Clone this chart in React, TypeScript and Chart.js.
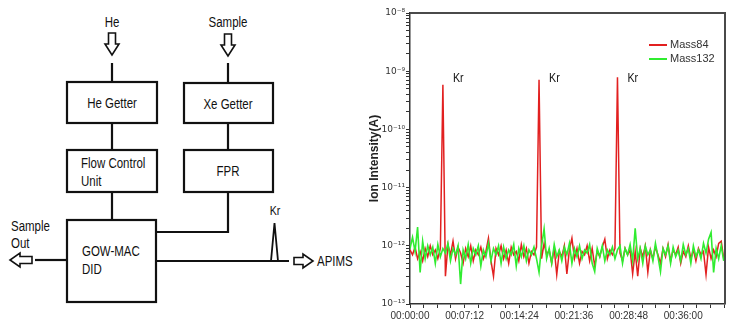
import React, { useEffect, useRef } from "react";
import { Chart, registerables } from "chart.js";

Chart.register(...registerables);

// ---------- data ----------
const SAMPLE_STEP_S = 20; // seconds between samples
const X_MAX_S = 2490;
const X_TICK_STEP_S = 108;
const X_LABEL_STEP_S = 432;
const Y_MIN = 1e-13;
const Y_MAX = 1e-8;
const Y_TITLE = "Ion Intensity(A)";
const SERIES_NAMES = ["Mass84", "Mass132"];
const SERIES_COLORS = ["rgb(226,32,32)", "rgb(48,236,48)"];

// ion currents in pA (1e-12 A)
const MASS84_PA = [
  0.85, 0.7, 0.95, 0.6, 0.8, 0.55, 0.9, 0.65, 1.0, 0.7,
  0.85, 0.6, 0.9, 585, 0.3, 1.05, 0.7, 1.2, 0.6, 0.95,
  0.75, 0.5, 0.9, 0.65, 1.0, 0.55, 0.85, 0.7, 0.95, 0.6,
  0.8, 1.35, 0.55, 0.3, 0.9, 0.7, 1.0, 0.6, 0.85, 0.5,
  0.95, 0.7, 0.8, 0.55, 1.05, 0.65, 0.9, 0.5, 0.8, 0.7,
  0.95, 710, 0.6, 1.1, 0.7, 0.85, 0.5, 0.9, 0.32, 0.8,
  0.65, 1.0, 0.33, 0.85, 1.35, 0.6, 0.9, 0.5, 0.8, 0.7,
  1.0, 0.55, 0.9, 0.45, 0.8, 0.65, 0.95, 1.3, 0.6, 0.85,
  0.7, 0.9, 790, 0.75, 0.55, 0.9, 0.7, 0.85, 0.33, 0.8,
  0.3, 0.9, 0.65, 1.0, 0.35, 0.85, 0.6, 0.95, 0.7, 0.5,
  0.9, 0.65, 1.05, 0.55, 0.85, 0.7, 0.95, 0.5, 0.8, 0.65,
  1.0, 0.6, 0.85, 0.55, 0.9, 0.7, 0.8, 0.32, 0.95, 0.6,
  0.85, 0.65, 1.1, 1.2, 0.6,
];
const MASS132_PA = [
  0.9, 1.4, 0.8, 2.1, 0.35, 1.2, 0.6, 1.0, 0.7, 0.95,
  0.5, 1.05, 0.65, 0.9, 0.75, 1.1, 0.55, 0.9, 0.7, 1.0,
  0.22, 0.85, 0.6, 1.05, 0.5, 0.9, 0.7, 1.0, 0.45, 0.85,
  0.65, 1.1, 0.55, 0.9, 0.7, 1.0, 0.5, 0.95, 0.6, 0.85,
  0.7, 1.05, 0.45, 0.9, 0.65, 1.0, 0.55, 0.85, 0.7, 0.95,
  0.6, 0.35, 1.0, 1.95, 0.6, 0.9, 0.5, 1.05, 0.65, 0.85,
  0.55, 0.95, 0.7, 1.1, 0.5, 0.9, 0.65, 1.0, 0.6, 0.85,
  0.75, 1.05, 0.5, 0.36, 0.9, 0.65, 1.0, 0.55, 0.85, 0.7,
  0.95, 0.6, 0.85, 1.0, 0.5, 0.9, 0.7, 1.05, 0.55, 2.0,
  0.6, 0.9, 0.5, 1.0, 0.7, 0.85, 0.55, 1.1, 0.65, 0.36,
  0.9, 0.7, 1.0, 0.5, 0.95, 0.65, 0.85, 0.55, 1.05, 0.7,
  0.9, 0.5, 1.0, 0.65, 0.85, 0.6, 1.1, 0.75, 1.3, 1.7,
  0.35, 0.9, 0.6, 1.0, 0.55,
];
const KR_PEAK_INDICES = [13, 51, 82];
const KR_LABEL = "Kr";
const KR_LABEL_LEVEL_A = 7.4e-10;

const SANS = '"Liberation Sans", Arial, sans-serif';
const CONDENSE = 0.82;

const SUP: Record<string, string> = {
  "-": "\u207B", "0": "\u2070", "1": "\u00B9", "2": "\u00B2", "3": "\u00B3",
  "4": "\u2074", "5": "\u2075", "6": "\u2076", "7": "\u2077", "8": "\u2078", "9": "\u2079",
};
const sup = (n: number) => String(n).split("").map((c) => SUP[c] ?? c).join("");

const hms = (s: number) => {
  const h = Math.floor(s / 3600);
  const m = Math.floor((s % 3600) / 60);
  const sec = Math.round(s % 60);
  return [h, m, sec].map((v) => String(v).padStart(2, "0")).join(":");
};

const toPoints = (vals: number[]) =>
  vals.map((v, i) => ({ x: i * SAMPLE_STEP_S, y: v * 1e-12 }));

const overlayPlugin = {
  id: "overlay",
  afterDatasetsDraw(chart: any) {
    const { ctx, chartArea } = chart;
    const xs = chart.scales.x;
    const ys = chart.scales.y;
    ctx.save();
    // frame top & right
    ctx.strokeStyle = "#4a4a4a";
    ctx.lineWidth = 2;
    ctx.beginPath();
    ctx.moveTo(chartArea.left, chartArea.top);
    ctx.lineTo(chartArea.right, chartArea.top);
    ctx.lineTo(chartArea.right, chartArea.bottom);
    ctx.stroke();
    // Kr labels
    ctx.fillStyle = "#111";
    ctx.font = `13px ${SANS}`;
    ctx.textAlign = "left";
    ctx.textBaseline = "middle";
    KR_PEAK_INDICES.forEach((idx) => {
      const x = xs.getPixelForValue(idx * SAMPLE_STEP_S) + 10;
      const y = ys.getPixelForValue(KR_LABEL_LEVEL_A);
      ctx.save();
      ctx.translate(x, y);
      ctx.scale(CONDENSE, 1);
      ctx.fillText(KR_LABEL, 0, 0);
      ctx.restore();
    });
    // legend
    ctx.font = `11px ${SANS}`;
    ctx.fillStyle = "#333";
    chart.data.datasets.forEach((ds: any, i: number) => {
      const y = chartArea.top + 32 + i * 14;
      ctx.strokeStyle = ds.borderColor;
      ctx.lineWidth = 2;
      ctx.beginPath();
      ctx.moveTo(chartArea.right - 76, y);
      ctx.lineTo(chartArea.right - 58, y);
      ctx.stroke();
      ctx.fillText(ds.label, chartArea.right - 55, y);
    });
    ctx.restore();
  },
};

function IonChart() {
  const ref = useRef<HTMLCanvasElement | null>(null);
  useEffect(() => {
    if (!ref.current) return;
    const chart = new Chart(ref.current, {
      type: "line",
      data: {
        datasets: [
          {
            label: SERIES_NAMES[0],
            data: toPoints(MASS84_PA),
            borderColor: SERIES_COLORS[0],
            borderWidth: 1.5,
            pointRadius: 0,
            tension: 0,
            order: 2,
          },
          {
            label: SERIES_NAMES[1],
            data: toPoints(MASS132_PA),
            borderColor: SERIES_COLORS[1],
            borderWidth: 1.6,
            pointRadius: 0,
            tension: 0,
            order: 1,
          },
        ],
      },
      options: {
        animation: false,
        responsive: false,
        maintainAspectRatio: false,
        layout: { padding: { top: 13, right: 10, left: 0, bottom: 0 } },
        plugins: { legend: { display: false }, tooltip: { enabled: false } },
        scales: {
          x: {
            type: "linear",
            min: 0,
            max: X_MAX_S,
            afterFit: (s: any) => {
              s.height = 19;
            },
            afterBuildTicks: (s: any) => {
              const t: any[] = [];
              for (let v = 0; v <= X_MAX_S; v += X_TICK_STEP_S) t.push({ value: v });
              s.ticks = t;
            },
            ticks: {
              autoSkip: false,
              maxRotation: 0,
              padding: 2,
              color: "#333",
              font: { family: SANS, size: 10 },
              callback: (v: any) => {
                const r = Number(v) / X_LABEL_STEP_S;
                return Math.abs(r - Math.round(r)) < 1e-6 ? hms(Math.round(r) * X_LABEL_STEP_S) : "";
              },
            },
            grid: { drawOnChartArea: false, drawTicks: true, tickLength: 4, tickColor: "#333" },
            border: { display: true, color: "#333", width: 1.5 },
          },
          y: {
            type: "logarithmic",
            min: Y_MIN,
            max: Y_MAX,
            afterFit: (s: any) => {
              s.width = 50;
            },
            afterBuildTicks: (s: any) => {
              const t: any[] = [];
              const e0 = Math.round(Math.log10(Y_MIN));
              const e1 = Math.round(Math.log10(Y_MAX));
              for (let e = e0; e < e1; e++) {
                for (let m = 1; m < 10; m++) t.push({ value: m * Math.pow(10, e) });
              }
              t.push({ value: Y_MAX });
              s.ticks = t;
            },
            ticks: {
              autoSkip: false,
              padding: 1,
              color: "#333",
              font: { family: '"DejaVu Sans", sans-serif', size: 9 },
              callback: (v: any) => {
                const e = Math.log10(Number(v));
                return Math.abs(e - Math.round(e)) < 1e-6 ? "10" + sup(Math.round(e)) : "";
              },
            },
            grid: { drawOnChartArea: false, drawTicks: true, tickLength: 4, tickColor: "#333" },
            border: { display: true, color: "#333", width: 1.5 },
            title: {
              display: true,
              text: Y_TITLE,
              color: "#222",
              font: { family: SANS, size: 12, weight: "bold" },
              padding: { top: 7, bottom: 0 },
            },
          },
        },
      } as any,
      plugins: [overlayPlugin],
    });
    return () => chart.destroy();
  }, []);
  return (
    <canvas
      ref={ref}
      width={375}
      height={323}
      style={{ position: "absolute", left: 360, top: 0, width: 375, height: 323 }}
    />
  );
}

function DownArrow({ cx, y0 }: { cx: number; y0: number }) {
  const p = [
    [cx - 3.5, y0], [cx + 3.5, y0], [cx + 3.5, y0 + 11], [cx + 7, y0 + 11],
    [cx, y0 + 22], [cx - 7, y0 + 11], [cx - 3.5, y0 + 11],
  ];
  return <polygon points={p.map((q) => q.join(",")).join(" ")} fill="#fff" stroke="#111" strokeWidth={1.6} />;
}

function HArrow({ tail, tip, cy }: { tail: number; tip: number; cy: number }) {
  const dir = tip > tail ? 1 : -1;
  const hb = tip - dir * 10;
  const p = [
    [tail, cy - 3.5], [hb, cy - 3.5], [hb, cy - 7], [tip, cy],
    [hb, cy + 7], [hb, cy + 3.5], [tail, cy + 3.5],
  ];
  return <polygon points={p.map((q) => q.join(",")).join(" ")} fill="#fff" stroke="#111" strokeWidth={1.6} />;
}

function T({ x, y, anchor = "start", size = 14, children }: any) {
  return (
    <g transform={`translate(${x},${y}) scale(${CONDENSE},1)`}>
      <text
        x={0}
        y={0}
        textAnchor={anchor}
        dominantBaseline="middle"
        fontFamily={SANS}
        fontSize={size}
        fill="#111"
      >
        {children}
      </text>
    </g>
  );
}

function Diagram() {
  const line = { stroke: "#111", strokeWidth: 2.2, fill: "none" } as any;
  return (
    <svg width={360} height={323} style={{ position: "absolute", left: 0, top: 0 }}>
      {/* He branch */}
      <T x={112} y={23} anchor="middle">He</T>
      <DownArrow cx={112} y0={33} />
      <line x1={112} y1={63} x2={112} y2={82} {...line} />
      <rect x={67} y={82} width={90} height={41} {...line} />
      <T x={112} y={104} anchor="middle">He Getter</T>
      <line x1={112} y1={123} x2={112} y2={150} {...line} />
      <rect x={67} y={150} width={90} height={42} {...line} />
      <T x={81} y={164}>Flow Control</T>
      <T x={81} y={182}>Unit</T>
      <line x1={112} y1={192} x2={112} y2={220} {...line} />
      {/* Sample branch */}
      <T x={228} y={23} anchor="middle">Sample</T>
      <DownArrow cx={228} y0={34} />
      <line x1={228} y1={63} x2={228} y2={83} {...line} />
      <rect x={184} y={83} width={89} height={40} {...line} />
      <T x={228} y={105} anchor="middle">Xe Getter</T>
      <line x1={228} y1={123} x2={228} y2={150} {...line} />
      <rect x={184} y={150} width={89} height={42} {...line} />
      <T x={228} y={172} anchor="middle">FPR</T>
      <polyline points="228,192 228,232 156,232" {...line} />
      {/* detector */}
      <rect x={67} y={220} width={89} height={82} {...line} />
      <T x={82} y={252}>GOW-MAC</T>
      <T x={82} y={270}>DID</T>
      <line x1={35} y1={260} x2={67} y2={260} {...line} />
      <HArrow tail={32} tip={10} cy={260} />
      <T x={11} y={227}>Sample</T>
      <T x={11} y={244}>Out</T>
      <line x1={156} y1={261} x2={289} y2={261} {...line} />
      <polyline points="271,261 274.5,223 278,261" stroke="#111" strokeWidth={1.8} fill="none" />
      <T x={275} y={212} anchor="middle" size={13}>Kr</T>
      <HArrow tail={294} tip={313} cy={261} />
      <T x={317} y={262}>APIMS</T>
    </svg>
  );
}

export default function App() {
  return (
    <div style={{ position: "absolute", left: 0, top: 0, width: 735, height: 323, background: "#fff" }}>
      <Diagram />
      <IonChart />
    </div>
  );
}
